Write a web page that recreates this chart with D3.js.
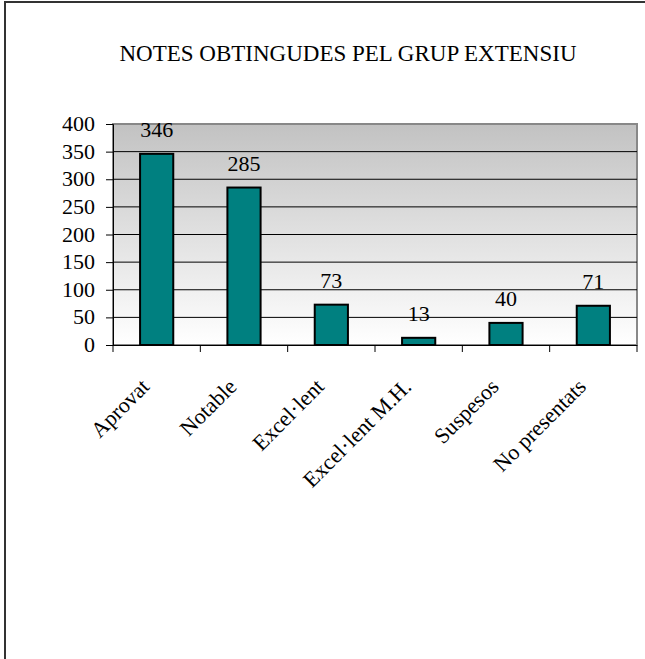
<!DOCTYPE html>
<html>
<head>
<meta charset="utf-8">
<script src="https://cdn.jsdelivr.net/npm/d3@7"></script>
<style>
  body { margin: 0; background: #fff; }
</style>
</head>
<body>
<svg id="chart" width="645" height="659"></svg>
<script>
const categories = ['Aprovat', 'Notable', 'Excel·lent', 'Excel·lent M.H.', 'Suspesos', 'No presentats']
const values = [346, 285, 73, 13, 40, 71]
const yTicks = [0, 50, 100, 150, 200, 250, 300, 350, 400]
const title = 'NOTES OBTINGUDES PEL GRUP EXTENSIU'

const margin = { left: 113, top: 124, right: 637, bottom: 345 }
const fontSize = 22
const serif = '"Times New Roman", "Liberation Serif", Times, serif'

const svg = d3.select('#chart')
	.attr('font-family', serif)

// outer frame (right and bottom edges fall outside the picture)
svg.append('rect')
	.attr('x', 5).attr('y', 2)
	.attr('width', 700).attr('height', 700)
	.attr('fill', 'none')
	.attr('stroke', '#333')
	.attr('stroke-width', 2)

const x = d3.scaleBand()
	.domain(categories)
	.range([margin.left, margin.right])
	.paddingInner(0.62)
	.paddingOuter(0.31)

const xOuter = d3.scaleBand()
	.domain(categories)
	.range([margin.left, margin.right])

const y = d3.scaleLinear()
	.domain([0, 400])
	.range([margin.bottom, margin.top])

const grad = svg.append('defs').append('linearGradient')
	.attr('id', 'bg')
	.attr('x1', 0).attr('y1', 0).attr('x2', 0).attr('y2', 1)
grad.append('stop').attr('offset', '0%').attr('stop-color', '#c2c2c2')
grad.append('stop').attr('offset', '100%').attr('stop-color', '#ffffff')

svg.append('rect')
	.attr('x', margin.left).attr('y', margin.top)
	.attr('width', margin.right - margin.left)
	.attr('height', margin.bottom - margin.top)
	.attr('fill', 'url(#bg)')
	.attr('stroke', '#888')
	.attr('stroke-width', 2)

// gridlines
svg.append('g')
	.selectAll('line')
	.data(yTicks.filter((d) => d > 0 && d < 400))
	.join('line')
		.attr('x1', margin.left).attr('x2', margin.right)
		.attr('y1', (d) => y(d)).attr('y2', (d) => y(d))
		.attr('stroke', '#000')
		.attr('stroke-width', 1)

// y axis
const yAxis = svg.append('g')
	.attr('transform', `translate(${margin.left},0)`)
	.call(d3.axisLeft(y).tickValues(yTicks).tickSize(7).tickPadding(11))
yAxis.attr('font-family', serif).attr('font-size', fontSize)
yAxis.select('.domain').attr('stroke', '#000')
yAxis.selectAll('.tick line').attr('stroke', '#000')
yAxis.selectAll('.tick text').attr('fill', '#000').attr('dy', '0.3em')

// x axis with ticks at category boundaries
const bounds = categories.map((c) => xOuter(c)).concat([margin.right])
svg.append('line')
	.attr('x1', margin.left - 1).attr('x2', margin.right)
	.attr('y1', margin.bottom + 0.5).attr('y2', margin.bottom + 0.5)
	.attr('stroke', '#000')
svg.append('g')
	.selectAll('line')
	.data(bounds)
	.join('line')
		.attr('x1', (d) => d).attr('x2', (d) => d)
		.attr('y1', margin.bottom).attr('y2', margin.bottom + 7)
		.attr('stroke', '#000')

// bars
svg.append('g')
	.selectAll('rect')
	.data(values)
	.join('rect')
		.attr('x', (d, i) => x(categories[i]))
		.attr('y', (d) => y(d))
		.attr('width', x.bandwidth())
		.attr('height', (d) => y(0) - y(d))
		.attr('fill', '#008080')
		.attr('stroke', '#000')
		.attr('stroke-width', 2)

// value labels
svg.append('g')
	.selectAll('text')
	.data(values)
	.join('text')
		.attr('x', (d, i) => x(categories[i]) + x.bandwidth() / 2)
		.attr('y', (d) => y(d) - 17)
		.attr('text-anchor', 'middle')
		.attr('font-size', fontSize)
		.text((d) => d)

// category labels
svg.append('g')
	.selectAll('text')
	.data(categories)
	.join('text')
		.attr('transform', (c) => `translate(${xOuter(c) + xOuter.bandwidth() / 2 - 6},388) rotate(-45)`)
		.attr('text-anchor', 'end')
		.attr('font-size', fontSize)
		.text((c) => c)

svg.append('text')
	.attr('x', 348)
	.attr('y', 61)
	.attr('text-anchor', 'middle')
	.attr('font-size', 23)
	.text(title)
</script>
</body>
</html>
